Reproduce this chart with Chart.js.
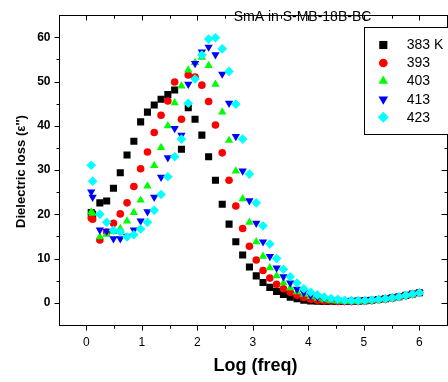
<!DOCTYPE html>
<html>
<head>
<meta charset="utf-8">
<script src="https://cdn.jsdelivr.net/npm/chart.js@4.4.0/dist/chart.umd.min.js"></script>
<style>
  html, body { margin: 0; padding: 0; background: #fff; overflow: hidden; }
  #wrap { width: 448px; height: 382px; overflow: hidden; position: relative; }
  canvas { position: absolute; left: 0; top: 0; }
</style>
</head>
<body>
<div id="wrap"><canvas id="lossChart" width="452" height="382" style="width:452px;height:382px"></canvas></div>
<script>
// data
const logFreq = [0.09, 0.115, 0.245, 0.368, 0.49, 0.613, 0.735, 0.858, 0.98, 1.103, 1.225, 1.348,
  1.47, 1.593, 1.715, 1.838, 1.96, 2.083, 2.205, 2.328, 2.45, 2.573, 2.695, 2.818, 2.94, 3.063,
  3.185, 3.308, 3.43, 3.553, 3.675, 3.798, 3.92, 4.043, 4.165, 4.288, 4.41, 4.533, 4.655, 4.778,
  4.9, 5.023, 5.145, 5.268, 5.39, 5.513, 5.635, 5.758, 5.88, 6.003];

const eps383 = [20.4, 20.0,
  22.6, 23.0, 25.9, 29.4, 33.4, 36.5, 40.9, 43.1, 44.7, 46.0, 47.1, 48.1,
  34.7, 44.1, 41.5, 37.9, 33.0, 27.7, 22.3, 17.8, 13.8, 10.8, 8.1, 6.1,
  4.6, 3.5, 2.6, 1.9, 1.3, 0.95, 0.6, 0.45, 0.35, 0.3, 0.3, 0.3,
  0.3, 0.35, 0.4, 0.5, 0.6, 0.75, 0.95, 1.15, 1.4, 1.7, 2.0, 2.3];
const eps393 = [19.2, 18.9,
  14.2, 16.0, 18.0, 20.1, 22.6, 26.3, 30.3, 34.1, 38.5, 42.4, 45.6, 49.9,
  41.5, 51.5, 51.0, 49.2, 45.5, 40.2, 33.9, 27.7, 21.9, 16.8, 12.8, 9.7,
  7.3, 5.6, 4.2, 3.2, 2.4, 1.7, 1.2, 0.8, 0.6, 0.45, 0.35, 0.3,
  0.3, 0.3, 0.35, 0.45, 0.55, 0.7, 0.9, 1.1, 1.35, 1.65, 1.95, 2.3];
const eps403 = [20.5, 20.2,
  14.9, 15.5, 16.1, 16.8, 18.5, 20.4, 23.2, 26.4, 31.0, 35.1, 40.0, 45.2,
  49.0, 52.6, 54.3, 55.5, 53.6, 49.4, 43.1, 36.7, 29.8, 23.5, 18.2, 13.8,
  10.5, 7.9, 6.1, 4.5, 3.4, 2.5, 1.9, 1.4, 1.0, 0.7, 0.5, 0.4,
  0.35, 0.35, 0.35, 0.45, 0.55, 0.7, 0.9, 1.1, 1.35, 1.65, 1.95, 2.3];
const eps413 = [25.1, 23.9,
  16.5, 16.2, 14.5, 14.5, 15.1, 16.5, 18.5, 20.6, 23.9, 28.4, 32.8, 39.4,
  37.9, 49.4, 54.1, 56.7, 57.8, 56.1, 51.7, 45.1, 37.6, 29.8, 23.1, 18.0,
  13.8, 10.5, 7.9, 5.9, 4.5, 3.1, 2.3, 1.7, 1.3, 1.0, 0.75, 0.6,
  0.5, 0.45, 0.45, 0.5, 0.6, 0.75, 0.95, 1.15, 1.4, 1.7, 2.0, 2.3];
const eps423 = [31.1, 27.5,
  20.0, 18.2, 16.4, 16.0, 14.9, 15.4, 16.7, 18.2, 20.9, 24.5, 28.5, 33.0,
  37.0, 45.1, 50.6, 56.0, 59.6, 59.9, 57.4, 52.3, 44.9, 37.0, 29.1, 22.6,
  17.4, 13.3, 10.0, 7.6, 5.9, 4.5, 3.2, 2.4, 1.8, 1.3, 1.0, 0.8,
  0.6, 0.55, 0.5, 0.55, 0.65, 0.8, 0.95, 1.15, 1.4, 1.7, 2.0, 2.3];

const seriesLabels = ['383 K', '393', '403', '413', '423'];
const xTicks = [0, 1, 2, 3, 4, 5, 6];
const yTicks = [0, 10, 20, 30, 40, 50, 60];

const FONT = 'Arial, "Liberation Sans", sans-serif';

const markers = [
  { color: '#000000', style: 'rect', radius: 5, rotation: 0 },
  { color: '#ff0000', style: 'circle', radius: 3.8, rotation: 0 },
  { color: '#00ff00', style: 'triangle', radius: 4.8, rotation: 0 },
  { color: '#0000ff', style: 'triangle', radius: 4.8, rotation: 180 },
  { color: '#00ffff', style: 'rectRot', radius: 4.8, rotation: 0 }
];

const toPoints = (ys) => ys.map((v, i) => ({ x: logFreq[i], y: v }));
const allSeries = [eps383, eps393, eps403, eps413, eps423];

const datasets = allSeries.map((ys, i) => ({
  label: seriesLabels[i],
  data: toPoints(ys),
  showLine: false,
  pointStyle: markers[i].style,
  pointRadius: markers[i].radius,
  pointRotation: markers[i].rotation,
  pointBackgroundColor: markers[i].color,
  pointBorderWidth: 0,
  pointBorderColor: markers[i].color,
  order: 5 - i // later series drawn on top
}));

// axes frame, ticks, titles and boxed legend
const decorPlugin = {
  id: 'decor',
  afterDraw(chart) {
    const { ctx, chartArea: a, scales: { x, y } } = chart;
    const L = Math.round(a.left) + 0.5, R = Math.round(a.right) + 0.5;
    const T = Math.round(a.top) + 0.5, B = Math.round(a.bottom) + 0.5;
    ctx.save();
    ctx.strokeStyle = '#000';
    ctx.lineWidth = 1;
    ctx.strokeRect(L, T, R - L, B - T);

    ctx.beginPath();
    xTicks.forEach(v => {
      const px = Math.round(x.getPixelForValue(v)) + 0.5;
      ctx.moveTo(px, B); ctx.lineTo(px, B + 5);
      ctx.moveTo(px, T); ctx.lineTo(px, T + 5);
      [v - 0.5, v + 0.5].forEach(m => {
        if (m <= x.min || m >= x.max) return;
        const mx = Math.round(x.getPixelForValue(m)) + 0.5;
        ctx.moveTo(mx, B); ctx.lineTo(mx, B + 3);
        ctx.moveTo(mx, T); ctx.lineTo(mx, T + 3);
      });
    });
    yTicks.forEach(v => {
      const py = Math.round(y.getPixelForValue(v)) + 0.5;
      ctx.moveTo(L - 5, py); ctx.lineTo(L, py);
      ctx.moveTo(R - 6, py); ctx.lineTo(R, py);
      const m = v + 5;
      if (m < y.max) {
        const my = Math.round(y.getPixelForValue(m)) + 0.5;
        ctx.moveTo(L - 3, my); ctx.lineTo(L, my);
        ctx.moveTo(R - 3, my); ctx.lineTo(R, my);
      }
    });
    ctx.stroke();

    ctx.fillStyle = '#000';
    ctx.textAlign = 'center';
    ctx.textBaseline = 'middle';
    ctx.font = '14px ' + FONT;
    ctx.fillText('SmA in S-MB-18B-BC', 302.5, 17.5);

    ctx.font = 'bold 18px ' + FONT;
    ctx.fillText('Log (freq)', 255.5, 366.5);

    ctx.save();
    ctx.translate(21, 171.5);
    ctx.rotate(-Math.PI / 2);
    ctx.font = 'bold 13px ' + FONT;
    ctx.fillText("Dielectric loss (\u03b5'')", 0, 0);
    ctx.restore();

    // legend box
    ctx.fillStyle = '#fff';
    ctx.fillRect(364.5, 27.5, 100, 107);
    ctx.strokeRect(364.5, 27.5, 100, 107);
    const rowY = [45, 63, 81, 99.3, 117.3];
    ctx.font = '14px ' + FONT;
    ctx.textAlign = 'left';
    seriesLabels.forEach((lab, i) => {
      const mk = markers[i];
      ctx.fillStyle = mk.color;
      Chart.helpers.drawPoint(ctx, {
        pointStyle: mk.style, radius: mk.radius * 1.15, rotation: mk.rotation, borderWidth: 0
      }, 383.3, rowY[i]);
      ctx.fillStyle = '#000';
      ctx.fillText(lab, 406.7, rowY[i] + 0.5);
    });
    ctx.restore();
  }
};

new Chart(document.getElementById('lossChart'), {
  type: 'scatter',
  data: { datasets },
  options: {
    responsive: false,
    animation: false,
    devicePixelRatio: 1,
    layout: { padding: { top: 6, right: 1, bottom: 0, left: 0 } },
    plugins: { legend: { display: false }, tooltip: { enabled: false }, title: { display: false } },
    scales: {
      x: {
        type: 'linear', min: -0.5, max: 6.5,
        grid: { display: false, drawTicks: false },
        border: { display: false },
        ticks: { font: { family: FONT, size: 12 }, color: '#000', padding: 10, autoSkip: false, maxRotation: 0 },
        afterBuildTicks: s => { s.ticks = xTicks.map(v => ({ value: v })); },
        afterFit: s => { s.height = 57; }
      },
      y: {
        type: 'linear', min: -5, max: 65,
        grid: { display: false, drawTicks: false },
        border: { display: false },
        ticks: { font: { family: FONT, size: 12, weight: 'bold' }, color: '#000', padding: 8, autoSkip: false },
        afterBuildTicks: s => { s.ticks = yTicks.map(v => ({ value: v })); },
        afterFit: s => { s.width = 58.5; }
      }
    }
  },
  plugins: [decorPlugin]
});
</script>
</body>
</html>
